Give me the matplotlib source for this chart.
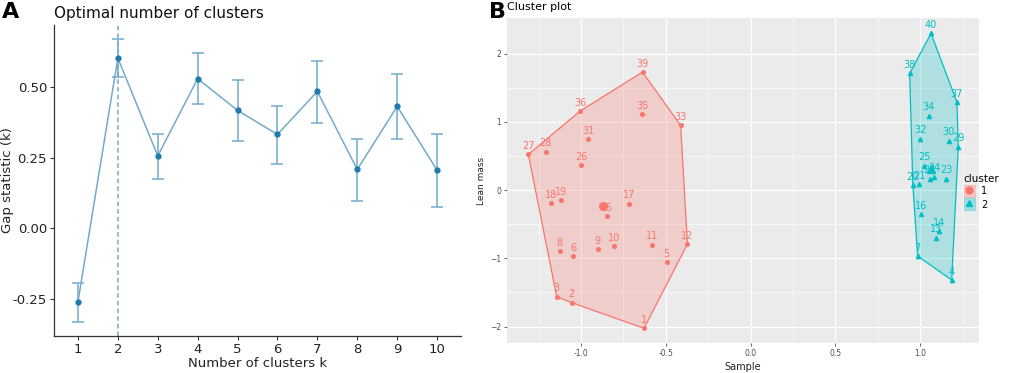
import numpy as np
import matplotlib
matplotlib.use("Agg")
import matplotlib.pyplot as plt
from matplotlib.patches import Polygon, Patch
from matplotlib.lines import Line2D

# ---------------------------------------------------------------------------
# Data
# ---------------------------------------------------------------------------

# Panel A: gap statistic
k_values = [1, 2, 3, 4, 5, 6, 7, 8, 9, 10]
gap = [-0.260, 0.602, 0.256, 0.529, 0.417, 0.332, 0.484, 0.208, 0.431, 0.206]
gap_hi = [-0.192, 0.670, 0.335, 0.620, 0.526, 0.434, 0.593, 0.317, 0.546, 0.335]
gap_lo = [-0.330, 0.535, 0.176, 0.440, 0.308, 0.229, 0.373, 0.097, 0.317, 0.076]
k_opt = 2

# Panel B: cluster plot
c1_labels = ["1", "2", "3", "5", "6", "8", "9", "10", "11", "12", "15", "17",
             "18", "19", "26", "27", "28", "31", "33", "35", "36", "39"]
c1_x = [-0.628, -1.054, -1.143, -0.494, -1.046, -1.125, -0.902, -0.804, -0.579,
        -0.372, -0.845, -0.717, -1.174, -1.117, -0.997, -1.310, -1.208, -0.957,
        -0.412, -0.640, -1.005, -0.637]
c1_y = [-2.025, -1.650, -1.562, -1.054, -0.966, -0.898, -0.864, -0.825, -0.800,
        -0.791, -0.381, -0.200, -0.190, -0.151, 0.366, 0.522, 0.561, 0.747,
        0.947, 1.113, 1.157, 1.728]
c1_center = (-0.871, -0.229)

c2_labels = ["4", "7", "13", "14", "16", "20", "21", "22", "23", "24", "25",
             "29", "30", "32", "34", "37", "38", "40"]
c2_x = [1.186, 0.985, 1.091, 1.113, 1.007, 0.957, 0.993, 1.056, 1.154, 1.083,
        1.024, 1.225, 1.168, 1.001, 1.050, 1.217, 0.938, 1.064]
c2_y = [-1.318, -0.966, -0.698, -0.600, -0.351, 0.073, 0.083, 0.166, 0.166,
        0.195, 0.356, 0.634, 0.722, 0.751, 1.088, 1.288, 1.708, 2.294]
c2_center = (1.064, 0.312)

RED = "#F8766D"
TEAL = "#00BFC4"
LINE_BLUE = "#72abca"
PT_BLUE = "#1f7bab"


def convex_hull(xs, ys):
    pts = sorted(set(zip(xs, ys)))

    def cross(o, a, b):
        return (a[0] - o[0]) * (b[1] - o[1]) - (a[1] - o[1]) * (b[0] - o[0])

    lower, upper = [], []
    for p in pts:
        while len(lower) >= 2 and cross(lower[-2], lower[-1], p) <= 0:
            lower.pop()
        lower.append(p)
    for p in reversed(pts):
        while len(upper) >= 2 and cross(upper[-2], upper[-1], p) <= 0:
            upper.pop()
        upper.append(p)
    return lower[:-1] + upper[:-1]


fig = plt.figure(figsize=(10.24, 3.73), dpi=100)

# ---------------------------------------------------------------------------
# Panel A
# ---------------------------------------------------------------------------
axA = fig.add_axes([54 / 1024, 37 / 373, 407 / 1024, 311 / 373])
axA.axvline(k_opt, color=LINE_BLUE, lw=1.1, ls=(0, (3, 2)), zorder=1)
yerr = [np.array(gap) - np.array(gap_lo), np.array(gap_hi) - np.array(gap)]
axA.errorbar(k_values, gap, yerr=yerr, color=LINE_BLUE, lw=1.1,
             elinewidth=1.1, capsize=4, capthick=1.1, zorder=2)
axA.plot(k_values, gap, "o", color=PT_BLUE, ms=3.5, zorder=3)
axA.set_xlim(0.4, 10.6)
axA.set_ylim(-0.381, 0.719)
axA.set_xticks(k_values)
axA.set_yticks([-0.25, 0.0, 0.25, 0.5])
axA.set_yticklabels(["-0.25", "0.00", "0.25", "0.50"])
for s in ["top", "right"]:
    axA.spines[s].set_visible(False)
for s in ["left", "bottom"]:
    axA.spines[s].set_color("#333333")
    axA.spines[s].set_linewidth(0.9)
axA.tick_params(labelsize=9.5, colors="#333333", length=3, width=0.8,
                labelcolor="#222222", pad=2)
axA.set_xlabel("Number of clusters k", fontsize=9.5, color="#222222", labelpad=1)
axA.set_ylabel("Gap statistic (k)", fontsize=9.5, color="#222222", labelpad=2)
axA.yaxis.set_label_coords(-0.098, 0.5)
axA.set_title("Optimal number of clusters", fontsize=11, loc="left", x=0.0,
              pad=5, color="#111111")
fig.text(0.002, 0.995, "A", fontsize=16, fontweight="bold", va="top", ha="left")

# ---------------------------------------------------------------------------
# Panel B
# ---------------------------------------------------------------------------
axB = fig.add_axes([507 / 1024, 30 / 373, 472 / 1024, 325 / 373])
axB.set_facecolor("#EBEBEB")
axB.set_xlim(-1.436, 1.347)
axB.set_ylim(-2.24, 2.52)
axB.set_xticks([-1.0, -0.5, 0.0, 0.5, 1.0])
axB.set_xticklabels(["-1.0", "-0.5", "0.0", "0.5", "1.0"])
axB.set_yticks([-2, -1, 0, 1, 2])
axB.set_xticks([-1.25, -0.75, -0.25, 0.25, 0.75, 1.25], minor=True)
axB.set_yticks([-1.5, -0.5, 0.5, 1.5], minor=True)
axB.grid(which="major", color="white", lw=0.9)
axB.grid(which="minor", color="white", lw=0.45)
axB.set_axisbelow(True)
for s in axB.spines.values():
    s.set_visible(False)
axB.tick_params(which="major", labelsize=5.5, colors="#4d4d4d", length=2,
                width=0.6, pad=2)
axB.tick_params(which="minor", length=0)
axB.set_xlabel("Sample", fontsize=7, color="#222222", labelpad=3)
axB.set_ylabel("Lean mass", fontsize=6.5, color="#222222", labelpad=3)
axB.set_title("Cluster plot", fontsize=8, loc="left", pad=6, x=0.0)
fig.text(0.478, 0.995, "B", fontsize=16, fontweight="bold", va="top", ha="left")

for xs, ys, labs, ctr, col, mk in [
        (c1_x, c1_y, c1_labels, c1_center, RED, "o"),
        (c2_x, c2_y, c2_labels, c2_center, TEAL, "^")]:
    hull = convex_hull(xs, ys)
    axB.add_patch(Polygon(hull, closed=True, facecolor=col, alpha=0.25,
                          edgecolor="none", zorder=2))
    axB.add_patch(Polygon(hull, closed=True, facecolor="none",
                          edgecolor=col, lw=0.9, zorder=3))
    axB.plot(xs, ys, mk, color=col, ms=2.6 if mk == "o" else 3.0,
             ls="none", zorder=4)
    axB.plot([ctr[0]], [ctr[1]], mk, color=col, ms=5.5, zorder=4)
    for x, y, t in zip(xs, ys, labs):
        axB.annotate(t, (x, y), xytext=(0, 2.5), textcoords="offset points",
                     ha="center", va="bottom", fontsize=7, color=col,
                     zorder=5)

h1 = (Patch(facecolor=RED, alpha=0.3, edgecolor=RED, lw=0.8),
      Line2D([], [], marker="o", color=RED, ls="none", ms=5))
h2 = (Patch(facecolor=TEAL, alpha=0.3, edgecolor=TEAL, lw=0.8),
      Line2D([], [], marker="^", color=TEAL, ls="none", ms=5))
leg = fig.legend([h1, h2], ["1", "2"], title="cluster",
                 loc="center left", bbox_to_anchor=(957 / 1024, 1 - 192 / 373),
                 frameon=False, fontsize=7, title_fontsize=7.5,
                 handlelength=1.1, handleheight=1.5, handletextpad=0.7,
                 labelspacing=0.15, borderpad=0.2)
leg._legend_box.align = "left"

fig.savefig("out.png", dpi=100)
